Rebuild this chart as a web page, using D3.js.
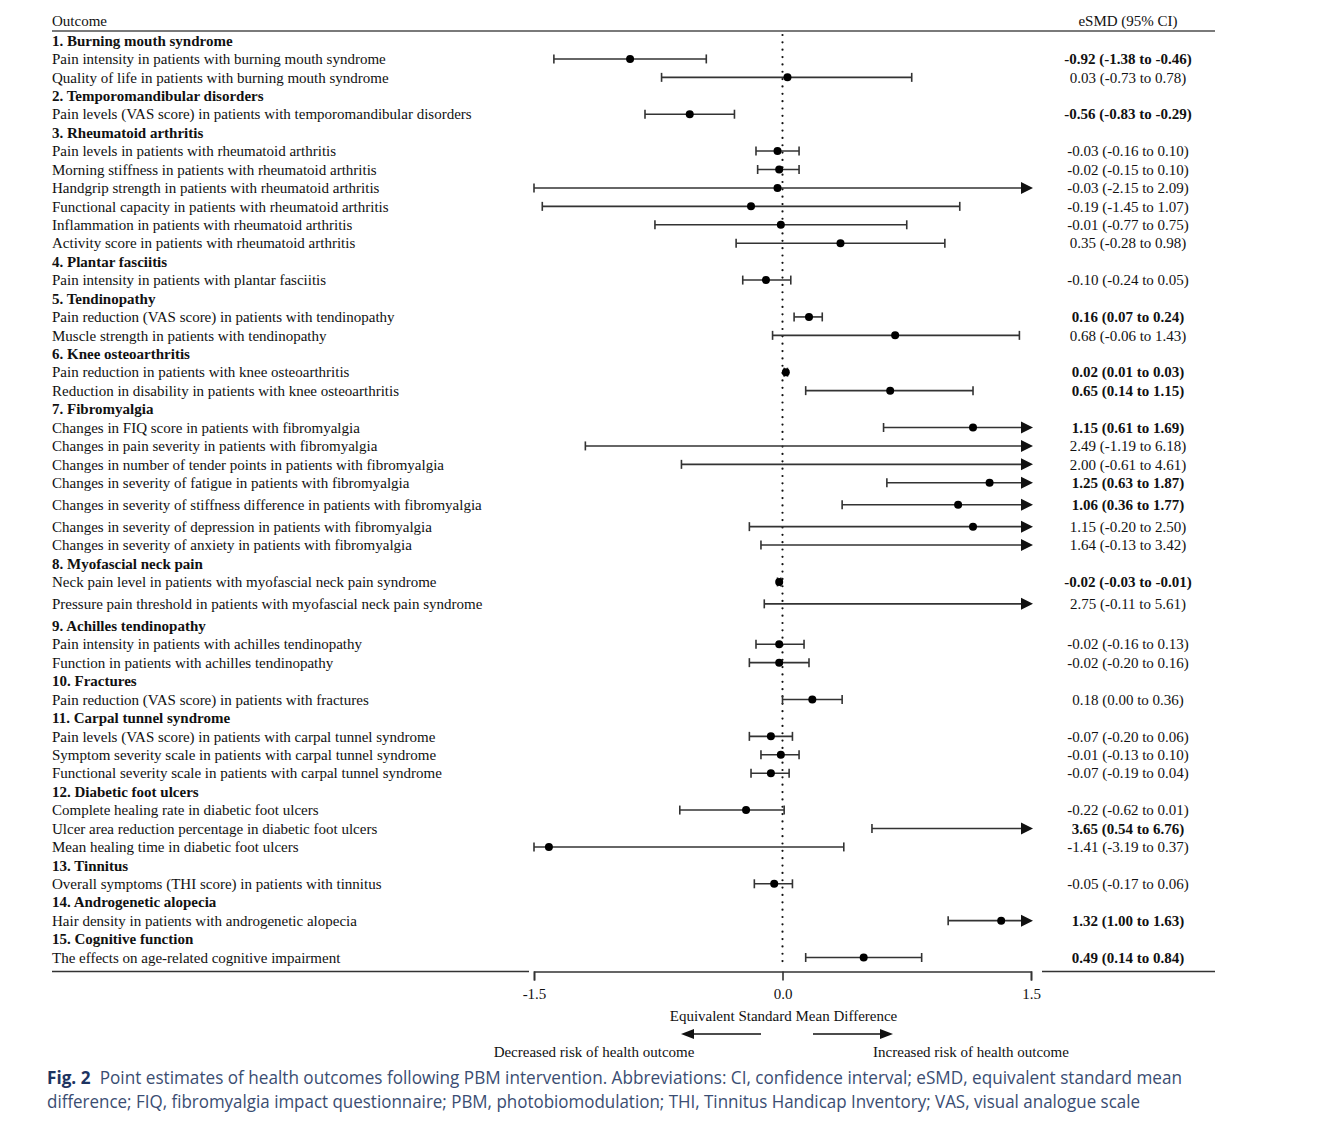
<!DOCTYPE html>
<html>
<head>
<meta charset="utf-8">
<script src="https://cdn.jsdelivr.net/npm/d3@7/dist/d3.min.js"></script>
<style>
  html, body { margin: 0; padding: 0; background: #fff; }
  svg { display: block; }
</style>
</head>
<body>
<svg id="chart" width="1323" height="1137"></svg>
<script>
// ---------------- DATA ----------------
const groupNames = [
  "1. Burning mouth syndrome",
  "2. Temporomandibular disorders",
  "3. Rheumatoid arthritis",
  "4. Plantar fasciitis",
  "5. Tendinopathy",
  "6. Knee osteoarthritis",
  "7. Fibromyalgia",
  "8. Myofascial neck pain",
  "9. Achilles tendinopathy",
  "10. Fractures",
  "11. Carpal tunnel syndrome",
  "12. Diabetic foot ulcers",
  "13. Tinnitus",
  "14. Androgenetic alopecia",
  "15. Cognitive function"
];

const outcomeLabels = [
  "Pain intensity in patients with burning mouth syndrome",
  "Quality of life in patients with burning mouth syndrome",
  "Pain levels (VAS score) in patients with temporomandibular disorders",
  "Pain levels in patients with rheumatoid arthritis",
  "Morning stiffness in patients with rheumatoid arthritis",
  "Handgrip strength in patients with rheumatoid arthritis",
  "Functional capacity in patients with rheumatoid arthritis",
  "Inflammation in patients with rheumatoid arthritis",
  "Activity score in patients with rheumatoid arthritis",
  "Pain intensity in patients with plantar fasciitis",
  "Pain reduction (VAS score) in patients with tendinopathy",
  "Muscle strength in patients with tendinopathy",
  "Pain reduction in patients with knee osteoarthritis",
  "Reduction in disability in patients with knee osteoarthritis",
  "Changes in FIQ score in patients with fibromyalgia",
  "Changes in pain severity in patients with fibromyalgia",
  "Changes in number of tender points in patients with fibromyalgia",
  "Changes in severity of fatigue in patients with fibromyalgia",
  "Changes in severity of stiffness difference in patients with fibromyalgia",
  "Changes in severity of depression in patients with fibromyalgia",
  "Changes in severity of anxiety in patients with fibromyalgia",
  "Neck pain level in patients with myofascial neck pain syndrome",
  "Pressure pain threshold in patients with myofascial neck pain syndrome",
  "Pain intensity in patients with achilles tendinopathy",
  "Function in patients with achilles tendinopathy",
  "Pain reduction (VAS score) in patients with fractures",
  "Pain levels (VAS score) in patients with carpal tunnel syndrome",
  "Symptom severity scale in patients with carpal tunnel syndrome",
  "Functional severity scale in patients with carpal tunnel syndrome",
  "Complete healing rate in diabetic foot ulcers",
  "Ulcer area reduction percentage in diabetic foot ulcers",
  "Mean healing time in diabetic foot ulcers",
  "Overall symptoms (THI score) in patients with tinnitus",
  "Hair density in patients with androgenetic alopecia",
  "The effects on age-related cognitive impairment"
];

const outcomeGroup = [0,0,1,2,2,2,2,2,2,3,4,4,5,5,6,6,6,6,6,6,6,7,7,8,8,9,10,10,10,11,11,11,12,13,14];

const estimates = [-0.92, 0.03, -0.56, -0.03, -0.02, -0.03, -0.19, -0.01, 0.35, -0.10, 0.16, 0.68, 0.02, 0.65,
  1.15, 2.49, 2.00, 1.25, 1.06, 1.15, 1.64, -0.02, 2.75, -0.02, -0.02, 0.18, -0.07, -0.01, -0.07,
  -0.22, 3.65, -1.41, -0.05, 1.32, 0.49];
const ciLower = [-1.38, -0.73, -0.83, -0.16, -0.15, -2.15, -1.45, -0.77, -0.28, -0.24, 0.07, -0.06, 0.01, 0.14,
  0.61, -1.19, -0.61, 0.63, 0.36, -0.20, -0.13, -0.03, -0.11, -0.16, -0.20, 0.00, -0.20, -0.13, -0.19,
  -0.62, 0.54, -3.19, -0.17, 1.00, 0.14];
const ciUpper = [-0.46, 0.78, -0.29, 0.10, 0.10, 2.09, 1.07, 0.75, 0.98, 0.05, 0.24, 1.43, 0.03, 1.15,
  1.69, 6.18, 4.61, 1.87, 1.77, 2.50, 3.42, -0.01, 5.61, 0.13, 0.16, 0.36, 0.06, 0.10, 0.04,
  0.01, 6.76, 0.37, 0.06, 1.63, 0.84];

// labels that wrapped onto two lines in the source table (rows get extra room)
const wrappedLabels = [
  "Changes in severity of stiffness difference in patients with fibromyalgia",
  "Pressure pain threshold in patients with myofascial neck pain syndrome"
];

const xTicks = [-1.5, 0, 1.5];
const xDomain = [-1.5, 1.5];

const colHeaderLeft = "Outcome";
const colHeaderRight = "eSMD (95% CI)";
const axisTitle = "Equivalent Standard Mean Difference";
const leftNote = "Decreased risk of health outcome";
const rightNote = "Increased risk of health outcome";
const captionLabel = "Fig. 2";
const captionLines = [
  "Point estimates of health outcomes following PBM intervention. Abbreviations: CI, confidence interval; eSMD, equivalent standard mean",
  "difference; FIQ, fibromyalgia impact questionnaire; PBM, photobiomodulation; THI, Tinnitus Handicap Inventory; VAS, visual analogue scale"
];

// ---------------- LAYOUT ----------------
const svg = d3.select("#chart");
const serif = "'Liberation Serif', 'Times New Roman', serif";
const fs = 15;
const ink = "#111";
const lineCol = "#333";

const fmt = v => (v < 0 ? "-" : "") + Math.abs(v).toFixed(2);
const fmtTick = v => (v < 0 ? "-" : "") + Math.abs(v).toFixed(1);

// build rows
const rows = [];
groupNames.forEach((g, gi) => {
  rows.push({type: "header", label: g});
  outcomeLabels.forEach((lab, i) => {
    if (outcomeGroup[i] === gi) {
      rows.push({type: "outcome", label: lab, est: estimates[i], lo: ciLower[i], hi: ciUpper[i]});
    }
  });
});

// cumulative row centres in "units"
let cum = 0, prevH = null;
rows.forEach(r => {
  const h = wrappedLabels.includes(r.label) ? 1.38 : 1;
  if (prevH !== null) cum += prevH / 2 + h / 2;
  r.u = cum;
  prevH = h;
});

const y = d3.scaleLinear().domain([0, cum]).range([40.5, 957.5]);
const x = d3.scaleLinear().domain(xDomain).range([534, 1031]);

const leftX = 52, rightEnd = 1215, valX = 1128;

// header texts
svg.append("text").attr("x", leftX).attr("y", 21).attr("dy", "0.35em")
  .attr("font-family", serif).attr("font-size", fs).attr("fill", ink).text(colHeaderLeft);
svg.append("text").attr("x", valX).attr("y", 21).attr("dy", "0.35em").attr("text-anchor", "middle")
  .attr("font-family", serif).attr("font-size", fs).attr("fill", ink).text(colHeaderRight);

// top rule
svg.append("line").attr("x1", leftX).attr("x2", rightEnd).attr("y1", 31).attr("y2", 31)
  .attr("stroke", "#7a7a7a").attr("stroke-width", 2);

// zero dotted line
svg.append("line").attr("x1", x(0)).attr("x2", x(0)).attr("y1", 35).attr("y2", 968)
  .attr("stroke", "#111").attr("stroke-width", 2.2).attr("stroke-linecap", "round")
  .attr("stroke-dasharray", "0 7.35");

// row labels
svg.append("g").selectAll("text").data(rows).join("text")
  .attr("x", leftX).attr("y", d => y(d.u)).attr("dy", "0.35em")
  .attr("font-family", serif).attr("font-size", fs).attr("fill", ink)
  .attr("font-weight", d => d.type === "header" ? "bold" : "normal")
  .text(d => d.label);

const outs = rows.filter(r => r.type === "outcome");

// value text
svg.append("g").selectAll("text").data(outs).join("text")
  .attr("x", valX).attr("y", d => y(d.u)).attr("dy", "0.35em").attr("text-anchor", "middle")
  .attr("font-family", serif).attr("font-size", fs).attr("fill", ink)
  .attr("font-weight", d => (d.lo > 0 || d.hi < 0) ? "bold" : "normal")
  .text(d => `${fmt(d.est)} (${fmt(d.lo)} to ${fmt(d.hi)})`);

// CI marks
const arrowLen = 12, arrowHalf = 6, arrowTip = x(xDomain[1]) + 2;
const capH = 4.5;
const gm = svg.append("g");
outs.forEach(d => {
  const yy = y(d.u);
  const over = d.hi > xDomain[1];
  const xl = x(Math.max(d.lo, xDomain[0]));
  const xr = over ? arrowTip - arrowLen + 1 : x(Math.min(d.hi, xDomain[1]));
  gm.append("line").attr("x1", xl).attr("x2", xr).attr("y1", yy).attr("y2", yy)
    .attr("stroke", lineCol).attr("stroke-width", 1.6);
  gm.append("line").attr("x1", xl).attr("x2", xl).attr("y1", yy - capH).attr("y2", yy + capH)
    .attr("stroke", lineCol).attr("stroke-width", 1.6);
  if (over) {
    gm.append("path")
      .attr("d", `M${arrowTip - arrowLen},${yy - arrowHalf}L${arrowTip},${yy}L${arrowTip - arrowLen},${yy + arrowHalf}Z`)
      .attr("fill", "#111");
  } else {
    gm.append("line").attr("x1", xr).attr("x2", xr).attr("y1", yy - capH).attr("y2", yy + capH)
      .attr("stroke", lineCol).attr("stroke-width", 1.6);
  }
  if (d.est >= xDomain[0] && d.est <= xDomain[1]) {
    gm.append("circle").attr("cx", x(d.est)).attr("cy", yy).attr("r", 4).attr("fill", "#000");
  }
});

// bottom rules and axis
const axisY = 971.5;
svg.append("line").attr("x1", leftX).attr("x2", 529).attr("y1", axisY).attr("y2", axisY)
  .attr("stroke", lineCol).attr("stroke-width", 1.4);
svg.append("line").attr("x1", 1042).attr("x2", rightEnd).attr("y1", axisY).attr("y2", axisY)
  .attr("stroke", lineCol).attr("stroke-width", 1.4);

const axis = d3.axisBottom(x).tickValues(xTicks).tickFormat(fmtTick)
  .tickSizeInner(9).tickSizeOuter(9).tickPadding(8);
const ga = svg.append("g").attr("transform", `translate(0,${axisY})`).call(axis);
ga.selectAll("path, line").attr("stroke", lineCol).attr("stroke-width", 1.6);
ga.selectAll("text").attr("font-family", serif).attr("font-size", fs).attr("fill", ink);

// axis title and direction notes
svg.append("text").attr("x", x(0) + 1).attr("y", 1016).attr("dy", "0.35em").attr("text-anchor", "middle")
  .attr("font-family", serif).attr("font-size", fs).attr("fill", ink).text(axisTitle);

const arrY = 1034;
svg.append("line").attr("x1", 761).attr("x2", 692).attr("y1", arrY).attr("y2", arrY)
  .attr("stroke", "#111").attr("stroke-width", 1.5);
svg.append("path").attr("d", `M681,${arrY}L694,${arrY - 5}L694,${arrY + 5}Z`).attr("fill", "#111");
svg.append("line").attr("x1", 813).attr("x2", 882).attr("y1", arrY).attr("y2", arrY)
  .attr("stroke", "#111").attr("stroke-width", 1.5);
svg.append("path").attr("d", `M893,${arrY}L880,${arrY - 5}L880,${arrY + 5}Z`).attr("fill", "#111");

svg.append("text").attr("x", 594).attr("y", 1052).attr("dy", "0.35em").attr("text-anchor", "middle")
  .attr("font-family", serif).attr("font-size", fs).attr("fill", ink).text(leftNote);
svg.append("text").attr("x", 971).attr("y", 1052).attr("dy", "0.35em").attr("text-anchor", "middle")
  .attr("font-family", serif).attr("font-size", fs).attr("fill", ink).text(rightNote);

// caption
const sans = "'Open Sans', 'Noto Sans', sans-serif";
const cap1 = svg.append("text").attr("x", 47).attr("y", 1078).attr("dy", "0.35em")
  .attr("font-family", sans).attr("font-size", 18.5).attr("fill", "#3a4d72")
  .attr("textLength", 1135).attr("lengthAdjust", "spacingAndGlyphs");
cap1.append("tspan").attr("font-weight", "bold").attr("fill", "#1d3461").text(captionLabel);
cap1.append("tspan").attr("dx", 10).text(captionLines[0]);
svg.append("text").attr("x", 47).attr("y", 1102).attr("dy", "0.35em")
  .attr("font-family", sans).attr("font-size", 18.5).attr("fill", "#3a4d72")
  .attr("textLength", 1093).attr("lengthAdjust", "spacingAndGlyphs")
  .text(captionLines[1]);
</script>
</body>
</html>
